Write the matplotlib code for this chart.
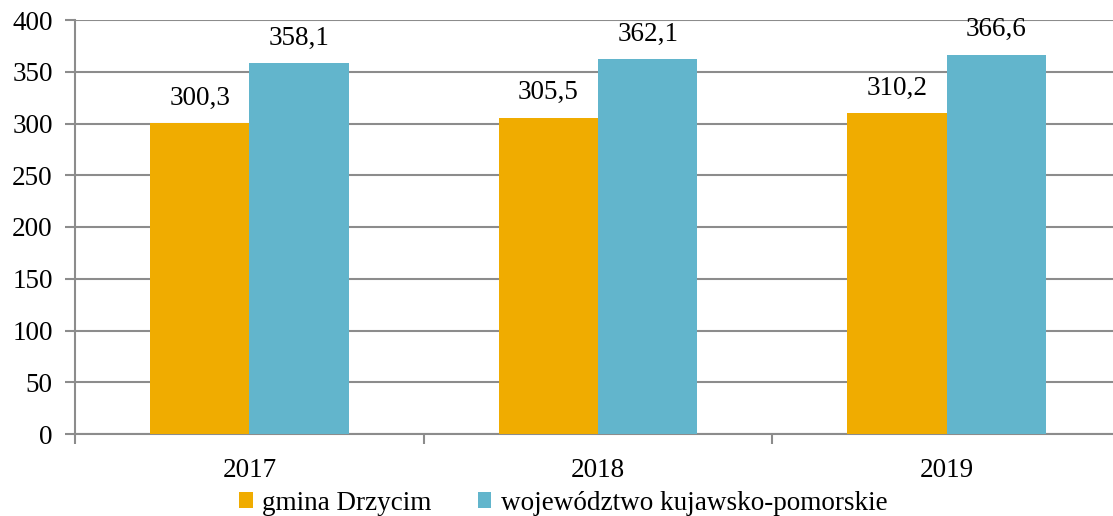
""" Grouped bar chart: gmina Drzycim vs województwo kujawsko-pomorskie. """

import numpy as np
import matplotlib.pyplot as plt
from matplotlib.ticker import FixedLocator

years = ['2017', '2018', '2019']
gmina = [300.3, 305.5, 310.2]
wojewodztwo = [358.1, 362.1, 366.6]
series_names = ['gmina Drzycim', 'województwo kujawsko-pomorskie']

plt.rcParams['font.family'] = ['Liberation Serif', 'DejaVu Serif']

fig = plt.figure(figsize=(11.13, 5.16), dpi=100)
# Plot area runs slightly past the right edge, as in the original.
ax = fig.add_axes([75 / 1113, 82 / 516, 1046 / 1113, 414 / 516])

x = np.arange(len(years))
w = 0.285
grid_c = '#8c8c8c'
fs = 19.5

b1 = ax.bar(x - w / 2, gmina, w, color='#f0ac00', label=series_names[0], zorder=3)
b2 = ax.bar(x + w / 2, wojewodztwo, w, color='#62b5cc', label=series_names[1], zorder=3)

# Data labels with comma decimals.
for bars, vals in ((b1, gmina), (b2, wojewodztwo)):
    for bar, v in zip(bars, vals):
        ax.text(bar.get_x() + bar.get_width() / 2, v + 12, f'{v:.1f}'.replace('.', ','),
                ha='center', va='bottom', fontsize=fs)

ax.set_xlim(-0.5, 2.5)
ax.set_ylim(0, 400)
ax.set_yticks(range(0, 401, 50))
ax.yaxis.grid(True, color=grid_c, linewidth=1.5, zorder=0)

ax.set_xticks(x)
ax.set_xticklabels(years)
ax.xaxis.set_minor_locator(FixedLocator([-0.5, 0.5, 1.5, 2.5]))
ax.tick_params(axis='x', which='major', length=0, pad=17, labelsize=fs)
ax.tick_params(axis='x', which='minor', length=7, width=1.5, color=grid_c)
ax.tick_params(axis='y', length=7, width=1.5, color=grid_c, labelsize=fs, pad=9)

for side in ('top', 'right'):
    ax.spines[side].set_visible(False)
for side in ('left', 'bottom'):
    ax.spines[side].set_color(grid_c)
    ax.spines[side].set_linewidth(1.5)

fig.legend(handles=[b1, b2], labels=series_names, loc='center',
           bbox_to_anchor=(0.506, 13 / 516), ncol=2, frameon=False,
           fontsize=fs, handlelength=0.5, handleheight=0.5, handletextpad=0.35,
           columnspacing=1.7, borderaxespad=0)

fig.savefig('out.png', dpi=100)
